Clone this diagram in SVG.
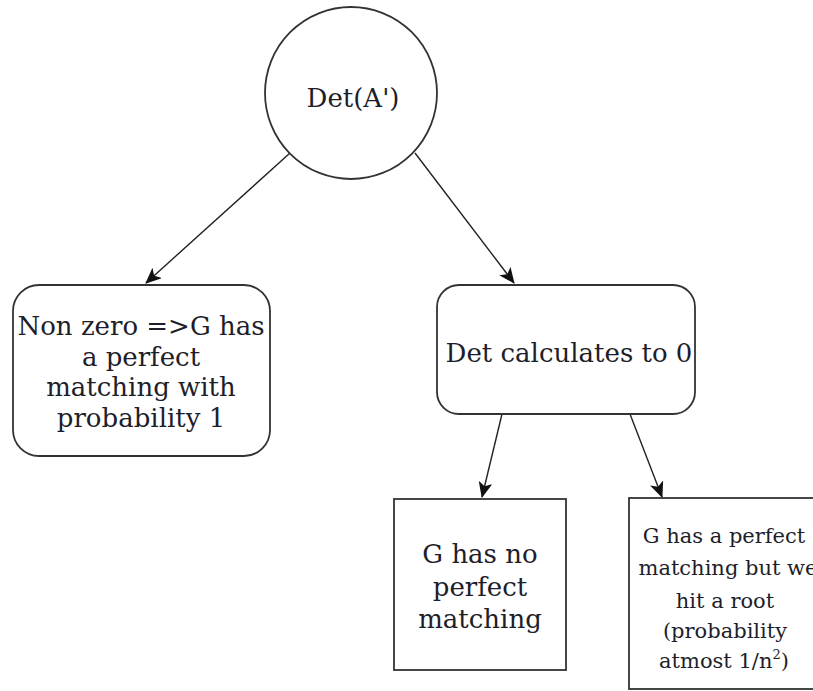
<svg xmlns="http://www.w3.org/2000/svg" width="813" height="691" viewBox="0 0 813 691">
<defs>
<marker id="arr" viewBox="0 0 16 14" refX="15" refY="7" markerWidth="16" markerHeight="14" markerUnits="userSpaceOnUse" orient="auto">
<path d="M0,0 L16,7 L0,14 L4,7 Z" fill="#111"/>
</marker>
</defs>
<style>
.shape{fill:#fff;stroke:#333;stroke-width:1.8}
.t{font-family:"DejaVu Serif",serif;font-size:26px;fill:#1e1e2a;text-anchor:middle}
.s{font-family:"DejaVu Serif",serif;font-size:21px;fill:#1e1e2a;text-anchor:middle}
.edge{stroke:#222;stroke-width:1.4;fill:none;marker-end:url(#arr)}
</style>
<rect width="813" height="691" fill="#fff"/>
<g id="connectors">
<line class="edge" x1="290" y1="153" x2="146" y2="283"/>
<line class="edge" x1="415" y1="153" x2="514" y2="283"/>
<line class="edge" x1="502" y1="414" x2="482" y2="497"/>
<line class="edge" x1="630" y1="414" x2="662" y2="497"/>
</g>
<g id="root">
<circle class="shape" cx="351" cy="93" r="86"/>
<text class="t" x="353" y="107">Det(A')</text>
</g>
<g id="nonzero">
<rect class="shape" x="13" y="285" width="257" height="171" rx="26" ry="26"/>
<text class="t" x="141" y="335">Non zero =&gt;G has</text>
<text class="t" x="141" y="366">a perfect</text>
<text class="t" x="141" y="396">matching with</text>
<text class="t" x="141" y="427">probability 1</text>
</g>
<g id="zero">
<rect class="shape" x="437" y="285" width="258" height="129" rx="22" ry="22"/>
<text class="t" x="569" y="362">Det calculates to 0</text>
</g>
<g id="nomatch">
<rect class="shape" x="394" y="499" width="172" height="171"/>
<text class="t" x="480" y="563">G has no</text>
<text class="t" x="480" y="596">perfect</text>
<text class="t" x="480" y="628">matching</text>
</g>
<g id="root-hit">
<rect class="shape" x="629" y="498" width="200" height="191"/>
<text class="s" x="724" y="543">G has a perfect</text>
<text class="s" x="728" y="575">matching but we</text>
<text class="s" x="725" y="608">hit a root</text>
<text class="s" x="725" y="638">(probability</text>
<text class="s" x="724" y="668">atmost 1/n<tspan dy="-9" font-size="13">2</tspan><tspan dy="9">)</tspan></text>
</g>
</svg>
